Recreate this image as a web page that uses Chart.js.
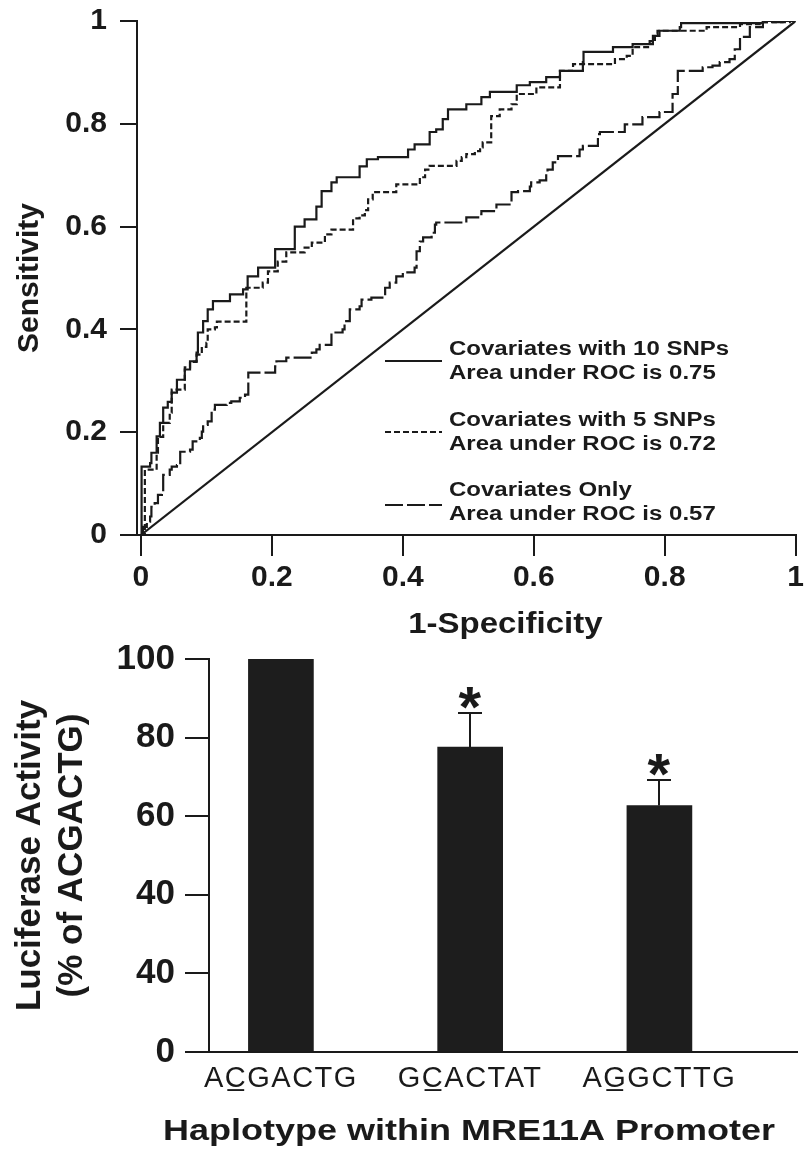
<!DOCTYPE html>
<html><head><meta charset="utf-8">
<script src="https://cdn.jsdelivr.net/npm/chart.js@4/dist/chart.umd.min.js"></script>
<style>
html,body{margin:0;padding:0;background:#fff;overflow:hidden;}
#wrap{position:relative;width:804px;height:1150px;background:#fff;}
canvas{display:block;position:absolute;left:0;}
#c1{top:0;}
#c2{top:640px;}
</style></head><body>
<div id="wrap">
<canvas id="c1" width="804" height="640"></canvas>
<canvas id="c2" width="804" height="510"></canvas>
</div>
<script>
// ---------- ROC panel data ----------
const rocTicks = [0, 0.2, 0.4, 0.6, 0.8, 1];
const rocTickLabels = ['0', '0.2', '0.4', '0.6', '0.8', '1'];
const rocNames = ['Covariates with 10 SNPs', 'Covariates with 5 SNPs', 'Covariates Only'];
const rocAUC = ['Area under ROC is 0.75', 'Area under ROC is 0.72', 'Area under ROC is 0.57'];

const roc10X = [0, 0.001, 0.014, 0.016, 0.024, 0.029, 0.034, 0.041, 0.047, 0.055, 0.067, 0.075, 0.085, 0.087, 0.095, 0.102, 0.110, 0.136, 0.156, 0.163, 0.179, 0.205, 0.235, 0.250, 0.268, 0.276, 0.291, 0.299, 0.334, 0.345, 0.362, 0.408, 0.418, 0.441, 0.451, 0.461, 0.469, 0.497, 0.520, 0.533, 0.574, 0.594, 0.619, 0.640, 0.675, 0.676, 0.721, 0.751, 0.782, 0.792, 0.823, 0.825, 0.950, 1.0];
const roc10Y = [0, 0.133, 0.140, 0.160, 0.192, 0.218, 0.248, 0.259, 0.277, 0.302, 0.322, 0.338, 0.355, 0.394, 0.416, 0.439, 0.455, 0.468, 0.478, 0.503, 0.520, 0.556, 0.600, 0.614, 0.639, 0.669, 0.686, 0.696, 0.717, 0.731, 0.735, 0.750, 0.760, 0.784, 0.789, 0.809, 0.828, 0.838, 0.852, 0.862, 0.875, 0.881, 0.891, 0.903, 0.920, 0.940, 0.949, 0.955, 0.971, 0.981, 0.988, 0.996, 1.0, 1.0];

const roc5X = [0, 0.006, 0.024, 0.026, 0.034, 0.044, 0.047, 0.067, 0.075, 0.085, 0.093, 0.100, 0.102, 0.113, 0.116, 0.161, 0.186, 0.194, 0.209, 0.222, 0.250, 0.261, 0.281, 0.291, 0.324, 0.334, 0.342, 0.347, 0.354, 0.390, 0.426, 0.434, 0.441, 0.482, 0.490, 0.497, 0.510, 0.518, 0.522, 0.535, 0.548, 0.566, 0.574, 0.604, 0.640, 0.660, 0.724, 0.742, 0.751, 0.777, 0.785, 0.789, 0.864, 0.915, 0.945, 0.991, 1.0];
const roc5Y = [0, 0.127, 0.160, 0.191, 0.218, 0.238, 0.283, 0.326, 0.337, 0.351, 0.366, 0.374, 0.400, 0.404, 0.415, 0.481, 0.491, 0.513, 0.532, 0.550, 0.559, 0.569, 0.585, 0.594, 0.616, 0.622, 0.632, 0.653, 0.667, 0.682, 0.696, 0.711, 0.718, 0.728, 0.735, 0.741, 0.747, 0.754, 0.764, 0.815, 0.828, 0.838, 0.858, 0.871, 0.903, 0.916, 0.926, 0.932, 0.949, 0.961, 0.975, 0.981, 0.988, 0.994, 0.998, 1.0, 1.0];

const rocCovX = [0, 0.003, 0.009, 0.014, 0.016, 0.021, 0.026, 0.032, 0.034, 0.044, 0.047, 0.055, 0.060, 0.075, 0.079, 0.090, 0.093, 0.095, 0.102, 0.108, 0.113, 0.131, 0.138, 0.151, 0.159, 0.164, 0.205, 0.207, 0.222, 0.261, 0.268, 0.273, 0.291, 0.308, 0.311, 0.319, 0.334, 0.337, 0.352, 0.373, 0.380, 0.390, 0.400, 0.418, 0.421, 0.426, 0.431, 0.444, 0.449, 0.451, 0.497, 0.518, 0.520, 0.543, 0.563, 0.566, 0.576, 0.594, 0.596, 0.609, 0.619, 0.621, 0.629, 0.637, 0.670, 0.675, 0.698, 0.701, 0.739, 0.766, 0.792, 0.812, 0.820, 0.858, 0.873, 0.884, 0.899, 0.907, 0.915, 0.930, 0.950, 0.980, 1.0];
const rocCovY = [0, 0.016, 0.026, 0.036, 0.055, 0.062, 0.078, 0.084, 0.117, 0.127, 0.133, 0.136, 0.162, 0.166, 0.182, 0.189, 0.201, 0.214, 0.221, 0.244, 0.253, 0.257, 0.260, 0.267, 0.273, 0.316, 0.328, 0.338, 0.345, 0.355, 0.361, 0.370, 0.394, 0.400, 0.416, 0.439, 0.445, 0.458, 0.462, 0.481, 0.491, 0.503, 0.511, 0.520, 0.552, 0.571, 0.579, 0.588, 0.604, 0.608, 0.618, 0.624, 0.630, 0.643, 0.647, 0.667, 0.669, 0.678, 0.686, 0.690, 0.702, 0.711, 0.725, 0.737, 0.750, 0.757, 0.780, 0.784, 0.799, 0.813, 0.823, 0.858, 0.903, 0.910, 0.913, 0.920, 0.926, 0.945, 0.969, 0.988, 0.998, 1.0, 1.0];

const chanceX = [0, 1];
const chanceY = [0, 1];

// ---------- Luciferase panel data ----------
const haplotypes = ['AC\u0332GACTG', 'GC\u0332ACTAT', 'AG\u0332GCTTG'];
const haplotypePos = [1, 2, 3];
const activity = [100, 77.6, 62.7];
const activityErr = [0, 8.7, 6.4];
const significant = [false, true, true];
const activityTicks = [0, 20, 40, 60, 80, 100];
const activityTickLabels = ['0', '40', '40', '60', '80', '100'];

// ---------- shared style ----------
const ink = '#1a1a1a';
const barInk = '#1d1d1d';
const LS = 'Liberation Sans';

function toPts(xs, ys) { return xs.map((x, i) => ({ x: x, y: ys[i] })); }

const rocDash = [[], [6, 3], [18, 4]];

// horizontally stretched text helper (the figure's lettering is wide)
function wideText(ctx, text, x, y, sx) {
  ctx.save();
  ctx.translate(x, y);
  ctx.scale(sx, 1);
  ctx.fillText(text, 0, 0);
  ctx.restore();
}

const rocLegendPlugin = {
  id: 'rocLegend',
  afterDraw(chart) {
    const ctx = chart.ctx;
    ctx.save();
    ctx.fillStyle = ink;
    ctx.strokeStyle = ink;
    ctx.lineWidth = 2;
    ctx.font = 'bold 20px "' + LS + '"';
    ctx.textBaseline = 'middle';
    ctx.textAlign = 'left';
    const rows = [349, 420, 490];
    const lineOff = [12, 12, 15];
    rocNames.forEach((name, i) => {
      const y1 = rows[i];
      ctx.setLineDash(rocDash[i]);
      ctx.beginPath();
      ctx.moveTo(385, y1 + lineOff[i]);
      ctx.lineTo(442, y1 + lineOff[i]);
      ctx.stroke();
      ctx.setLineDash([]);
      wideText(ctx, name, 449, y1, 1.2);
      wideText(ctx, rocAUC[i], 449, y1 + 24, 1.2);
    });
    ctx.restore();
  }
};

// x-axis title, centred on the axis with an offset (as in the figure)
const xTitlePlugin = {
  id: 'xTitle',
  afterDraw(chart, args, opts) {
    const ctx = chart.ctx;
    const s = chart.scales.x;
    ctx.save();
    ctx.fillStyle = ink;
    ctx.font = opts.font;
    ctx.textAlign = 'center';
    ctx.textBaseline = 'middle';
    wideText(ctx, opts.text, (s.left + s.right) / 2 + opts.shift, opts.y, opts.stretch);
    ctx.restore();
  }
};

// letter spacing for x tick labels (wide lettering)
const spacedTicksPlugin = {
  id: 'spacedTicks',
  beforeDraw(chart, args, opts) {
    const s = chart.scales.x;
    if (!s || s.__spaced) return;
    const orig = s.drawLabels.bind(s);
    s.drawLabels = function (area) {
      const c = this.ctx;
      const prev = c.letterSpacing;
      c.letterSpacing = opts.spacing;
      orig(area);
      c.letterSpacing = prev || '0px';
    };
    s.__spaced = true;
  }
};

new Chart(document.getElementById('c1'), {
  type: 'scatter',
  data: {
    datasets: [
      { label: rocNames[0], data: toPts(roc10X, roc10Y), showLine: true, stepped: 'before', borderColor: ink, borderWidth: 2.2, borderDash: rocDash[0], pointRadius: 0 },
      { label: rocNames[1], data: toPts(roc5X, roc5Y), showLine: true, stepped: 'before', borderColor: ink, borderWidth: 2.2, borderDash: rocDash[1], pointRadius: 0 },
      { label: rocNames[2], data: toPts(rocCovX, rocCovY), showLine: true, stepped: 'before', borderColor: ink, borderWidth: 2.2, borderDash: rocDash[2], pointRadius: 0 },
      { label: 'Chance', data: toPts(chanceX, chanceY), showLine: true, borderColor: ink, borderWidth: 2.2, pointRadius: 0 }
    ]
  },
  options: {
    responsive: false,
    animation: false,
    devicePixelRatio: 1,
    layout: { padding: { top: 21, right: 8, left: 0, bottom: 0 } },
    plugins: {
      legend: { display: false }, tooltip: { enabled: false },
      xTitle: { text: '1-Specificity', font: 'bold 30px "' + LS + '"', shift: 39, y: 625, stretch: 1.1 }
    },
    scales: {
      x: {
        type: 'linear', min: -0.006, max: 1,
        afterBuildTicks: s => { s.ticks = rocTicks.map(v => ({ value: v })); },
        ticks: { callback: (v, i) => rocTickLabels[i], color: ink, font: { family: LS, size: 30, weight: 'bold', lineHeight: 44 / 30 }, padding: 0, maxRotation: 0, autoSkip: false },
        grid: { drawOnChartArea: false, drawTicks: true, tickLength: 21, color: ink, lineWidth: 2 },
        border: { display: true, color: ink, width: 2 },
        afterFit: s => { s.height = 105; }
      },
      y: {
        type: 'linear', min: 0, max: 1,
        afterBuildTicks: s => { s.ticks = rocTicks.map(v => ({ value: v })); },
        ticks: { callback: (v, i) => rocTickLabels[i], color: ink, font: { family: LS, size: 30, weight: 'bold', lineHeight: 0.5 }, padding: 13 },
        grid: { drawOnChartArea: false, drawTicks: true, tickLength: 17, color: ink, lineWidth: 2 },
        border: { display: true, color: ink, width: 2 },
        title: { display: true, text: 'Sensitivity', color: ink, font: { family: LS, size: 30, weight: 'bold', lineHeight: 1 }, padding: { top: 15, bottom: 0 } },
        afterFit: s => { s.width = 137; }
      }
    }
  },
  plugins: [rocLegendPlugin, xTitlePlugin]
});

const errorBarPlugin = {
  id: 'errorBars',
  afterDatasetsDraw(chart) {
    const ctx = chart.ctx;
    const xs = chart.scales.x, ys = chart.scales.y;
    ctx.save();
    ctx.strokeStyle = ink;
    ctx.fillStyle = ink;
    ctx.lineWidth = 2;
    activity.forEach((v, i) => {
      const e = activityErr[i];
      if (!e) return;
      const px = Math.round(xs.getPixelForValue(haplotypePos[i]));
      const yb = ys.getPixelForValue(v);
      const yt = Math.round(ys.getPixelForValue(v + e));
      ctx.beginPath();
      ctx.moveTo(px, yb);
      ctx.lineTo(px, yt);
      ctx.moveTo(px - 12, yt);
      ctx.lineTo(px + 12, yt);
      ctx.stroke();
      if (significant[i]) {
        ctx.font = 'bold 58px "' + LS + '"';
        ctx.textAlign = 'left';
        ctx.textBaseline = 'alphabetic';
        const m = ctx.measureText('*');
        const cy = yt - 15;
        const base = cy + (m.actualBoundingBoxAscent - m.actualBoundingBoxDescent) / 2;
        const x0 = px - (m.actualBoundingBoxRight - m.actualBoundingBoxLeft) / 2;
        ctx.fillText('*', x0, base);
      }
    });
    ctx.restore();
  }
};

new Chart(document.getElementById('c2'), {
  type: 'bar',
  data: {
    datasets: [{
      label: 'Luciferase Activity',
      data: toPts(haplotypePos, activity),
      backgroundColor: barInk,
      borderWidth: 0,
      barThickness: 65
    }]
  },
  options: {
    responsive: false,
    animation: false,
    devicePixelRatio: 1,
    layout: { padding: { top: 19, right: 7, left: 0, bottom: 0 } },
    plugins: {
      legend: { display: false }, tooltip: { enabled: false },
      xTitle: { text: 'Haplotype within MRE11A Promoter', font: 'bold 30px "' + LS + '"', shift: -34, y: 492, stretch: 1.2 },
      spacedTicks: { spacing: '1.5px' }
    },
    scales: {
      x: {
        type: 'linear', min: 0.62, max: 3.727, offset: false,
        afterBuildTicks: s => { s.ticks = haplotypePos.map(v => ({ value: v })); },
        ticks: { callback: (v, i) => haplotypes[i], color: ink, font: { family: LS, size: 29, lineHeight: 54 / 29 }, padding: 0, maxRotation: 0, autoSkip: false },
        grid: { display: false, drawTicks: false, offset: false },
        border: { display: true, color: ink, width: 2 },
        afterFit: s => { s.height = 98; }
      },
      y: {
        type: 'linear', min: 0, max: 100,
        afterBuildTicks: s => { s.ticks = activityTicks.map(v => ({ value: v })); },
        ticks: { callback: (v, i) => activityTickLabels[i], color: ink, font: { family: LS, size: 35, weight: 'bold', lineHeight: 0.5 }, padding: 10 },
        grid: { drawOnChartArea: false, drawTicks: true, tickLength: 24, color: ink, lineWidth: 2 },
        border: { display: true, color: ink, width: 2 },
        title: { display: true, text: ['Luciferase Activity', '(% of ACGACTG)'], color: ink, font: { family: LS, size: 35, weight: 'bold', lineHeight: 1.2 }, padding: { top: 9, bottom: 0 } },
        afterFit: s => { s.width = 209; }
      }
    }
  },
  plugins: [errorBarPlugin, xTitlePlugin, spacedTicksPlugin]
});
</script>
</body></html>
